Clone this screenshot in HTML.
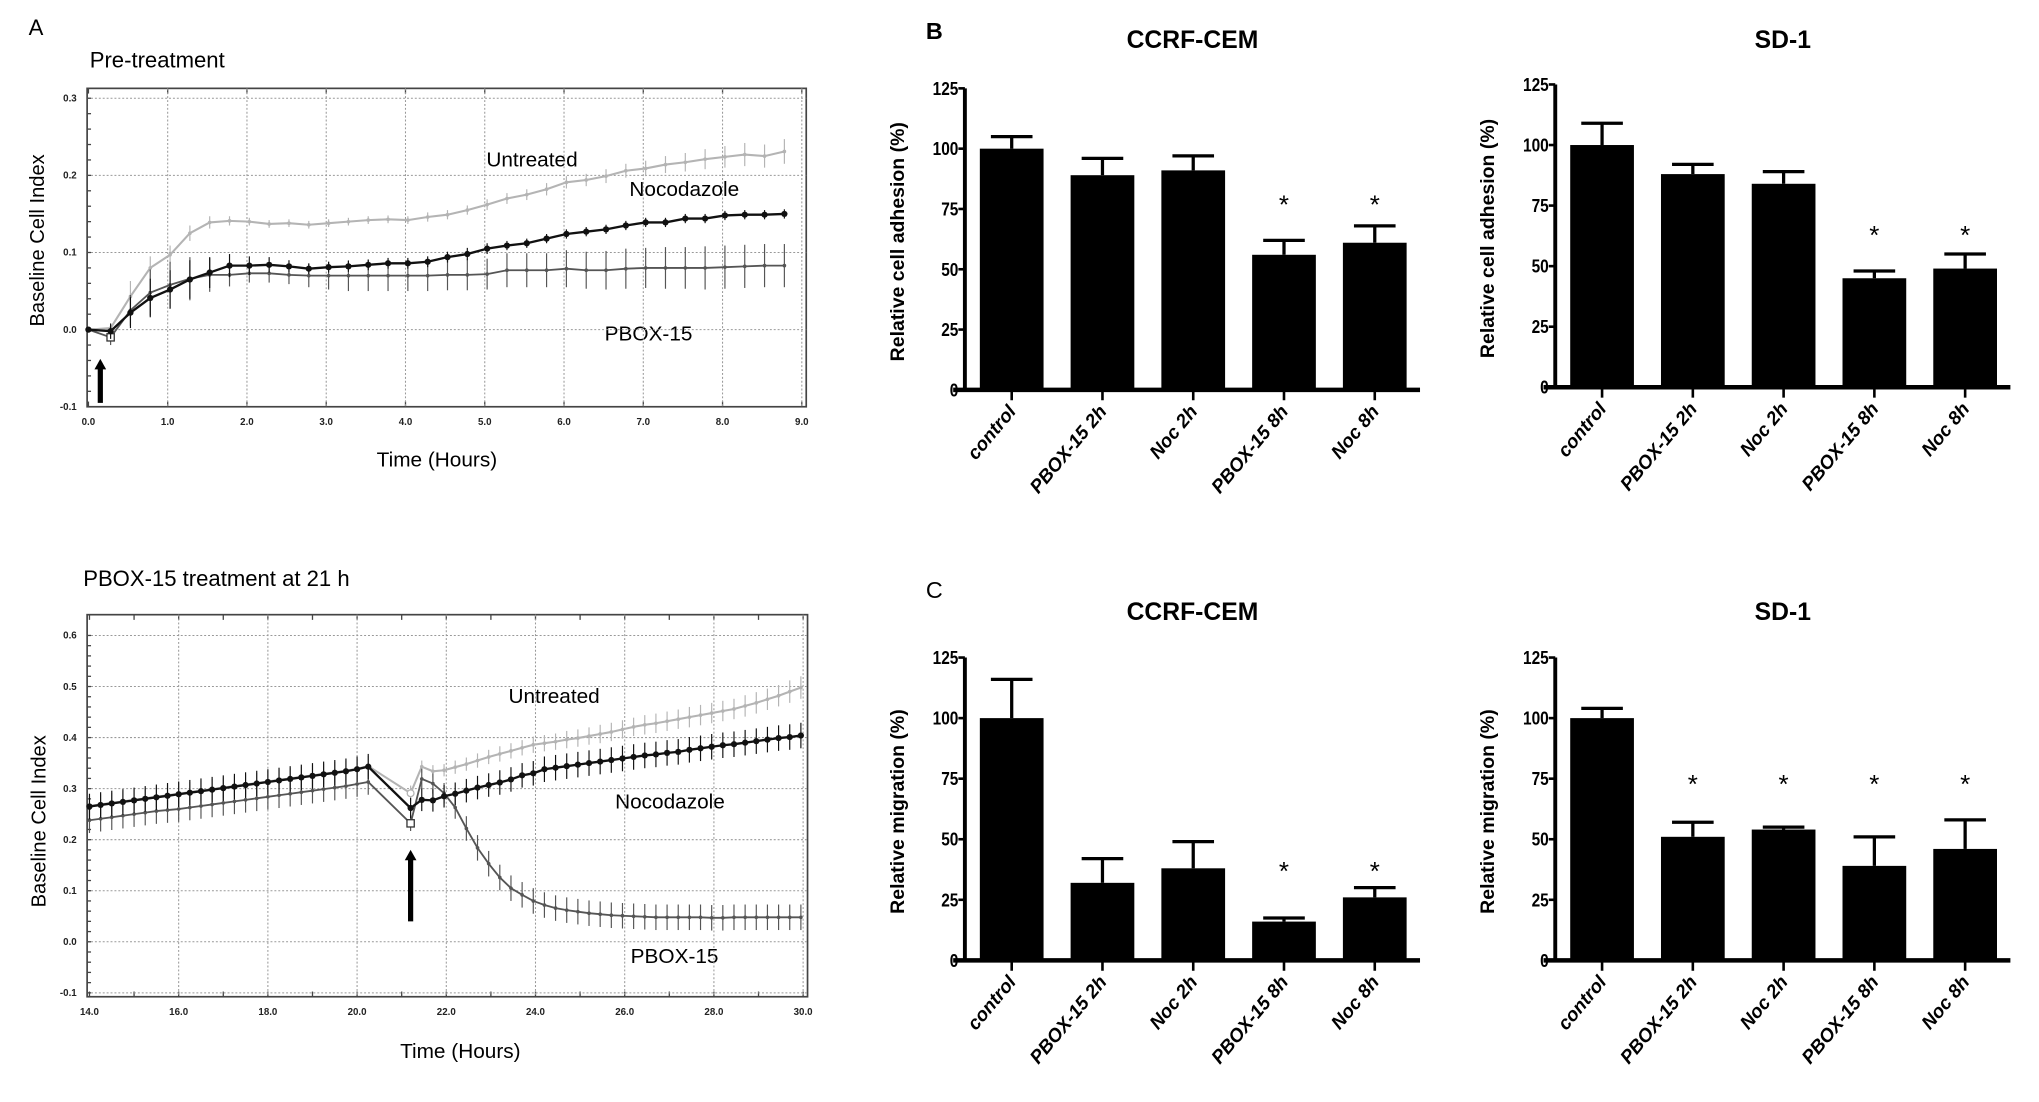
<!DOCTYPE html>
<html><head><meta charset="utf-8"><style>
html,body{margin:0;padding:0;background:#fff;}
svg{display:block;}
text{font-family:"Liberation Sans",Arial,sans-serif;}
</style></head><body>
<svg id="fig" xmlns="http://www.w3.org/2000/svg" width="2039" height="1102" viewBox="0 0 1568 848" preserveAspectRatio="none">
<rect x="0" y="0" width="1568" height="848" fill="#fff"/>
<g id="panelA"></g>
<g id="panelBC"></g>
</svg>
<script>
// ---------- Panel A data ----------
const preTimes=[0,0.28,0.53,0.78,1.03,1.28,1.53,1.78,2.03,2.28,2.53,2.78,3.03,3.28,3.53,3.78,4.03,4.28,4.53,4.78,5.03,5.28,5.53,5.78,6.03,6.28,6.53,6.78,7.03,7.28,7.53,7.78,8.03,8.28,8.53,8.78];
const preUntreated=[0,0.002,0.043,0.08,0.097,0.125,0.139,0.141,0.14,0.137,0.138,0.136,0.138,0.14,0.142,0.143,0.142,0.146,0.149,0.155,0.162,0.17,0.175,0.182,0.191,0.194,0.199,0.206,0.209,0.214,0.217,0.221,0.224,0.227,0.225,0.231];
const preUntreatedErr=[0,0.004,0.02,0.015,0.012,0.01,0.008,0.006,0.005,0.005,0.005,0.005,0.005,0.005,0.005,0.005,0.005,0.006,0.006,0.006,0.007,0.007,0.007,0.008,0.008,0.008,0.009,0.009,0.01,0.011,0.012,0.013,0.014,0.015,0.015,0.016];
const preNoc=[0,-0.002,0.022,0.041,0.052,0.065,0.074,0.083,0.083,0.084,0.082,0.079,0.081,0.082,0.084,0.086,0.086,0.088,0.094,0.098,0.105,0.109,0.112,0.118,0.124,0.127,0.13,0.135,0.139,0.139,0.144,0.144,0.148,0.149,0.149,0.15];
const preNocErr=[0,0.01,0.02,0.025,0.025,0.025,0.02,0.015,0.012,0.01,0.008,0.007,0.007,0.007,0.007,0.007,0.007,0.007,0.007,0.008,0.007,0.006,0.006,0.006,0.006,0.006,0.006,0.006,0.006,0.006,0.006,0.006,0.006,0.006,0.006,0.006];
const prePbox=[0,-0.01,0.025,0.048,0.058,0.066,0.071,0.071,0.073,0.073,0.071,0.07,0.07,0.07,0.07,0.07,0.07,0.07,0.071,0.071,0.072,0.077,0.077,0.077,0.079,0.077,0.077,0.079,0.08,0.08,0.08,0.08,0.081,0.082,0.083,0.083];
const prePboxErr=[0,0.01,0.02,0.03,0.03,0.028,0.022,0.015,0.012,0.012,0.012,0.015,0.018,0.02,0.02,0.02,0.02,0.02,0.02,0.02,0.02,0.022,0.022,0.022,0.024,0.024,0.025,0.026,0.026,0.027,0.027,0.028,0.028,0.028,0.028,0.028];
const preXTicks=["0.0","1.0","2.0","3.0","4.0","5.0","6.0","7.0","8.0","9.0"];
const preYTicks=["-0.1","0.0","0.1","0.2","0.3"];

const postTimes=[14,14.25,14.5,14.75,15,15.25,15.5,15.75,16,16.25,16.5,16.75,17,17.25,17.5,17.75,18,18.25,18.5,18.75,19,19.25,19.5,19.75,20,20.25,21.2,21.45,21.7,21.95,22.2,22.45,22.7,22.95,23.2,23.45,23.7,23.95,24.2,24.45,24.7,24.95,25.2,25.45,25.7,25.95,26.2,26.45,26.7,26.95,27.2,27.45,27.7,27.95,28.2,28.45,28.7,28.95,29.2,29.45,29.7,29.95];
const postUntreated=[0.266,0.269,0.272,0.275,0.278,0.281,0.284,0.287,0.29,0.293,0.296,0.299,0.302,0.305,0.308,0.311,0.314,0.317,0.32,0.323,0.326,0.329,0.332,0.335,0.339,0.344,0.291,0.343,0.334,0.336,0.342,0.348,0.355,0.362,0.368,0.374,0.38,0.386,0.389,0.392,0.396,0.399,0.403,0.407,0.411,0.416,0.421,0.425,0.428,0.432,0.436,0.44,0.444,0.448,0.452,0.456,0.462,0.468,0.475,0.482,0.49,0.498];
const postUntreatedErr=[0.02,0.02,0.02,0.02,0.02,0.02,0.02,0.02,0.02,0.02,0.02,0.02,0.02,0.02,0.02,0.02,0.02,0.02,0.02,0.02,0.02,0.02,0.02,0.02,0.02,0.02,0.015,0.012,0.012,0.012,0.013,0.013,0.014,0.014,0.015,0.015,0.015,0.016,0.016,0.016,0.017,0.017,0.017,0.018,0.018,0.018,0.018,0.019,0.019,0.019,0.019,0.02,0.02,0.02,0.02,0.02,0.021,0.021,0.021,0.021,0.022,0.022];
const postNoc=[0.265,0.268,0.271,0.274,0.277,0.28,0.283,0.286,0.289,0.292,0.295,0.298,0.301,0.304,0.307,0.31,0.313,0.316,0.319,0.322,0.325,0.328,0.331,0.334,0.338,0.343,0.262,0.278,0.277,0.285,0.29,0.296,0.302,0.307,0.312,0.318,0.326,0.33,0.338,0.341,0.344,0.347,0.35,0.353,0.356,0.359,0.362,0.365,0.367,0.37,0.372,0.376,0.379,0.382,0.385,0.387,0.39,0.393,0.396,0.399,0.401,0.404];
const postNocErr=[0.025,0.025,0.025,0.025,0.025,0.025,0.025,0.025,0.025,0.025,0.025,0.025,0.025,0.025,0.025,0.025,0.025,0.025,0.025,0.025,0.025,0.025,0.025,0.025,0.025,0.025,0.02,0.022,0.022,0.022,0.022,0.023,0.023,0.023,0.024,0.024,0.024,0.024,0.025,0.025,0.025,0.025,0.025,0.025,0.025,0.025,0.025,0.025,0.025,0.025,0.025,0.025,0.025,0.025,0.025,0.025,0.025,0.025,0.025,0.025,0.025,0.025];
const postPbox=[0.238,0.241,0.244,0.247,0.25,0.253,0.256,0.258,0.26,0.263,0.266,0.269,0.272,0.275,0.278,0.281,0.284,0.287,0.29,0.293,0.296,0.299,0.302,0.305,0.309,0.313,0.232,0.319,0.31,0.291,0.263,0.222,0.184,0.153,0.126,0.105,0.092,0.08,0.072,0.066,0.062,0.059,0.056,0.054,0.052,0.051,0.05,0.049,0.048,0.048,0.048,0.048,0.048,0.047,0.047,0.048,0.048,0.048,0.048,0.048,0.048,0.048];
const postPboxErr=[0.025,0.025,0.025,0.025,0.025,0.025,0.025,0.025,0.025,0.025,0.025,0.025,0.025,0.025,0.025,0.025,0.025,0.025,0.025,0.025,0.025,0.025,0.025,0.025,0.025,0.025,0.015,0.02,0.02,0.02,0.022,0.024,0.025,0.025,0.025,0.025,0.025,0.025,0.025,0.025,0.025,0.025,0.025,0.025,0.025,0.025,0.025,0.025,0.025,0.025,0.025,0.025,0.025,0.025,0.025,0.025,0.025,0.025,0.025,0.025,0.025,0.025];
const postXTicks=["14.0","16.0","18.0","20.0","22.0","24.0","26.0","28.0","30.0"];
const postYTicks=["-0.1","0.0","0.1","0.2","0.3","0.4","0.5","0.6"];

// ---------- Panels B/C data ----------
const categories=["control","PBOX-15 2h","Noc 2h","PBOX-15 8h","Noc 8h"];
const adhCcrf=[100,89,91,56,61];
const adhCcrfErr=[5,7,6,6,7];
const adhCcrfStars=[0,0,0,1,1];
const adhSd=[100,88,84,45,49];
const adhSdErr=[9,4,5,3,6];
const adhSdStars=[0,0,0,1,1];
const migCcrf=[100,32,38,16,26];
const migCcrfErr=[16,10,11,1.5,4];
const migCcrfStars=[0,0,0,1,1];
const migSd=[100,51,54,39,46];
const migSdErr=[4,6,1,12,12];
const migSdStars=[0,1,1,1,1];
const barYTicks=[0,25,50,75,100,125];

const NS="http://www.w3.org/2000/svg";
function mk(parent,tag,attrs,txt){const e=document.createElementNS(NS,tag);for(const k in attrs)e.setAttribute(k,attrs[k]);if(txt!==undefined)e.textContent=txt;parent.appendChild(e);return e;}

function lineChart(g,cfg){
  const sx=v=>cfg.x0+(v-cfg.xmin)/(cfg.xmax-cfg.xmin)*(cfg.x1-cfg.x0);
  const sy=v=>cfg.yb+(v-cfg.ymin)/(cfg.ymax-cfg.ymin)*(cfg.yt-cfg.yb);
  const fr=mk(g,'rect',{x:cfg.fl,y:cfg.ft,width:cfg.fr-cfg.fl,height:cfg.fb-cfg.ft,fill:'none',stroke:'#444','stroke-width':1.3});
  
  
  for(let h=Math.ceil(cfg.xmin);h<=cfg.xmax;h++){const x=sx(h);
    const mt=mk(g,'line',{x1:x,x2:x,y1:cfg.ft,y2:cfg.ft+4,stroke:'#444','stroke-width':1});
    
    
    const mb=mk(g,'line',{x1:x,x2:x,y1:cfg.fb,y2:cfg.fb-4,stroke:'#444','stroke-width':1});
    
    }
  cfg.xTicks.forEach(t=>{const v=parseFloat(t);const x=sx(v);
    if(x>cfg.fl+2&&x<cfg.fr-2){const gl=mk(g,'line',{x1:x,x2:x,y1:cfg.ft,y2:cfg.fb,stroke:'#999','stroke-width':0.8,'stroke-dasharray':'1.5,1.5'});
      
      }
    const tl=mk(g,'text',{x:x,y:cfg.fb+14,'font-size':7.5,'text-anchor':'middle',fill:'#222','font-weight':'bold'},t);
    
    
  });
  cfg.yTicks.forEach(t=>{const v=parseFloat(t);const y=sy(v);
    if(y>cfg.ft+2&&y<cfg.fb-2){const gl=mk(g,'line',{x1:cfg.fl,x2:cfg.fr,y1:y,y2:y,stroke:'#999','stroke-width':0.8,'stroke-dasharray':'1.5,1.5'});
      
      }
    const tl=mk(g,'text',{x:cfg.fl-8,y:y+2.5,'font-size':7.5,'text-anchor':'end',fill:'#222','font-weight':'bold'},t);
    
    
  });
  const step=(cfg.ymax-cfg.ymin)/((cfg.yTicks.length-1)*5);
  for(let v=cfg.ymin;v<=cfg.ymax+1e-9;v+=step){const y=sy(v);if(y<cfg.ft||y>cfg.fb)continue;
    const m=mk(g,'line',{x1:cfg.fl,x2:cfg.fl+3,y1:y,y2:y,stroke:'#444','stroke-width':1});
    
    }
  cfg.series.forEach(s=>{
    const sg=mk(g,'g',{});
    
    
    s.segments.forEach(seg=>{
      let d='';for(let i=seg[0];i<=seg[1];i++){d+=(i===seg[0]?'M':'L')+sx(s.t[i]).toFixed(2)+','+sy(s.v[i]).toFixed(2);}
      const p=mk(sg,'path',{d:d,fill:'none',stroke:s.color,'stroke-width':s.w});
      
      
    });
    s.v.forEach((v,i)=>{
      const x=sx(s.t[i]);
      if(s.e[i]>0){const eb=mk(sg,'line',{x1:x,x2:x,y1:sy(v-s.e[i]),y2:sy(v+s.e[i]),stroke:s.color,'stroke-width':0.9});
        
        }
      let m;
      if(s.open&&s.open.indexOf(i)>=0){
        m=s.openShape==='circle'?mk(sg,'circle',{cx:x,cy:sy(v),r:2.6,fill:'#fff',stroke:s.color,'stroke-width':1}):mk(sg,'rect',{x:x-2.8,y:sy(v)-2.8,width:5.6,height:5.6,fill:'#fff',stroke:'#333','stroke-width':1});
      } else m=mk(sg,'circle',{cx:x,cy:sy(v),r:s.r,fill:s.color});
      
      
    });
  });
  const ax=sx(cfg.arrow[0]);
  const ag=mk(g,'g',{});
  
  
  mk(ag,'line',{x1:ax,x2:ax,y1:sy(cfg.arrow[1]),y2:sy(cfg.arrow[2])+6,stroke:'#000','stroke-width':4});
  mk(ag,'path',{d:`M${ax-4.5},${sy(cfg.arrow[2])+8}L${ax},${sy(cfg.arrow[2])}L${ax+4.5},${sy(cfg.arrow[2])+8}Z`,fill:'#000'});
}

const A=document.getElementById('panelA');
function txt(p,name,x,y,size,s,extra){const t=mk(p,'text',Object.assign({x:x,y:y,'font-size':size,fill:'#000'},extra||{}),s);
  
  return t;}
txt(A,'panel-a-label',22,27,17,'A');
txt(A,'pre-treatment-title',69,52,17,'Pre-treatment');
txt(A,'post-treatment-title',64,451,17,'PBOX-15 treatment at 21 h');
txt(A,'pre-y-axis-title',0,0,15.5,'Baseline Cell Index',{transform:'translate(34,185) rotate(-90)','text-anchor':'middle'});
txt(A,'post-y-axis-title',0,0,15.5,'Baseline Cell Index',{transform:'translate(35,632) rotate(-90)','text-anchor':'middle'});
txt(A,'pre-x-axis-title',336,359,16,'Time (Hours)',{'text-anchor':'middle'});
txt(A,'post-x-axis-title',354,814,16,'Time (Hours)',{'text-anchor':'middle'});
txt(A,'untreated-label-pre',374,128,16,'Untreated');
txt(A,'nocodazole-label-pre',484,151,16,'Nocodazole');
txt(A,'pbox15-label-pre',465,262,16,'PBOX-15');
txt(A,'untreated-label-post',391,541,16,'Untreated');
txt(A,'nocodazole-label-post',473,622,16,'Nocodazole');
txt(A,'pbox15-label-post',485,741,16,'PBOX-15');

const gPre=mk(A,'g',{});


lineChart(gPre,{name:'pre-chart',x0:68,x1:616.6,xmin:0,xmax:9,yb:313,yt:75.6,ymin:-0.1,ymax:0.3,fl:67,fr:620,ft:68,fb:313,
  xTicks:preXTicks,yTicks:preYTicks,arrow:[0.15,-0.095,-0.038],
  series:[
   {name:'untreated-series',t:preTimes,v:preUntreated,e:preUntreatedErr,color:'#b4b4b4',w:1.6,r:1.4,segments:[[0,35]]},
   {name:'pbox15-series',t:preTimes,v:prePbox,e:prePboxErr,color:'#555',w:1.4,r:1.4,segments:[[0,35]],open:[1]},
   {name:'nocodazole-series',t:preTimes,v:preNoc,e:preNocErr,color:'#111',w:1.8,r:2.4,segments:[[0,35]]}
  ]});
const gPost=mk(A,'g',{});


lineChart(gPost,{name:'post-chart',x0:68.8,x1:617.6,xmin:14,xmax:30,yb:764,yt:489,ymin:-0.1,ymax:0.6,fl:67,fr:621,ft:473,fb:767,
  xTicks:postXTicks,yTicks:postYTicks,arrow:[21.2,0.04,0.18],
  series:[
   {name:'untreated-series',t:postTimes,v:postUntreated,e:postUntreatedErr,color:'#b4b4b4',w:1.6,r:1.4,segments:[[0,61]],open:[26],openShape:'circle'},
   {name:'pbox15-series',t:postTimes,v:postPbox,e:postPboxErr,color:'#555',w:1.4,r:1.4,segments:[[0,61]],open:[26]},
   {name:'nocodazole-series',t:postTimes,v:postNoc,e:postNocErr,color:'#111',w:1.8,r:2.4,segments:[[0,61]]}
  ]});

// ---------- bar charts ----------
const BC=document.getElementById('panelBC');
txt(BC,'panel-b-label',712,30,18,'B',{'font-family':'"Liberation Serif",serif','font-weight':'bold'});
txt(BC,'panel-c-label',712,460,18,'C',{'font-family':'"Liberation Serif",serif'});
function barChart(cfg){
  const g=mk(BC,'g',{});
  
  
  const sy=v=>cfg.y0+(v/125)*(cfg.y125-cfg.y0);
  const cx=i=>cfg.ax+36+69.8*i;
  txt(g,cfg.name+'-title',cfg.ax+175,cfg.titleY,19,cfg.title,{'text-anchor':'middle','font-weight':'bold'});
  txt(g,cfg.name+'-y-axis-title',0,0,15,cfg.ylabel,{transform:`translate(${cfg.ax-47},${(cfg.y0+cfg.y125)/2+2}) rotate(-90)`,'text-anchor':'middle','font-weight':'bold'});
  cfg.values.forEach((v,i)=>{
    const b=mk(g,'rect',{x:cx(i)-24.5,y:sy(v),width:49,height:cfg.y0-sy(v),fill:'#000'});
    
    
    const top=sy(v+cfg.errs[i]);
    const e1=mk(g,'line',{x1:cx(i),x2:cx(i),y1:sy(v),y2:top,stroke:'#000','stroke-width':2.5});
    
    
    const e2=mk(g,'line',{x1:cx(i)-16,x2:cx(i)+16,y1:top,y2:top,stroke:'#000','stroke-width':2.5});
    
    
    if(cfg.stars[i]){txt(g,'significance-star',cx(i),sy(cfg.starVal)+9,20,'*',{'text-anchor':'middle'});}
    const tk=mk(g,'line',{x1:cx(i),x2:cx(i),y1:cfg.y0,y2:cfg.y0+8,stroke:'#000','stroke-width':2});
    
    
    txt(g,'x-tick-label',0,0,14.5,categories[i],{transform:`translate(${cx(i)+4},${cfg.y0+17}) rotate(-50)`,'text-anchor':'end','font-weight':'bold','font-style':'italic'});
  });
  const ya=mk(g,'line',{x1:cfg.ax,x2:cfg.ax,y1:cfg.y0,y2:cfg.y125,stroke:'#000','stroke-width':3});
  
  
  const xa=mk(g,'line',{x1:cfg.ax-9,x2:cfg.ax+350,y1:cfg.y0,y2:cfg.y0,stroke:'#000','stroke-width':3.5});
  
  
  barYTicks.forEach(t=>{const y=sy(t);
    const tk=mk(g,'line',{x1:cfg.ax-5,x2:cfg.ax,y1:y,y2:y,stroke:'#000','stroke-width':2});
    
    
    txt(g,'y-tick-label',cfg.ax-5,y+5,14,String(t),{'text-anchor':'end','font-weight':'bold','textLength':String(t).length*6.6,'lengthAdjust':'spacingAndGlyphs'});
  });
}
barChart({name:'adhesion-ccrf-cem',ax:742,y0:300,y125:68,titleY:37,title:'CCRF-CEM',ylabel:'Relative cell adhesion (%)',values:adhCcrf,errs:adhCcrfErr,stars:adhCcrfStars,starVal:78});
barChart({name:'adhesion-sd1',ax:1196,y0:298,y125:65,titleY:37,title:'SD-1',ylabel:'Relative cell adhesion (%)',values:adhSd,errs:adhSdErr,stars:adhSdStars,starVal:64});
barChart({name:'migration-ccrf-cem',ax:742,y0:739,y125:506,titleY:477,title:'CCRF-CEM',ylabel:'Relative migration (%)',values:migCcrf,errs:migCcrfErr,stars:migCcrfStars,starVal:38});
barChart({name:'migration-sd1',ax:1196,y0:739,y125:506,titleY:477,title:'SD-1',ylabel:'Relative migration (%)',values:migSd,errs:migSdErr,stars:migSdStars,starVal:74});
</script>
</body></html>
